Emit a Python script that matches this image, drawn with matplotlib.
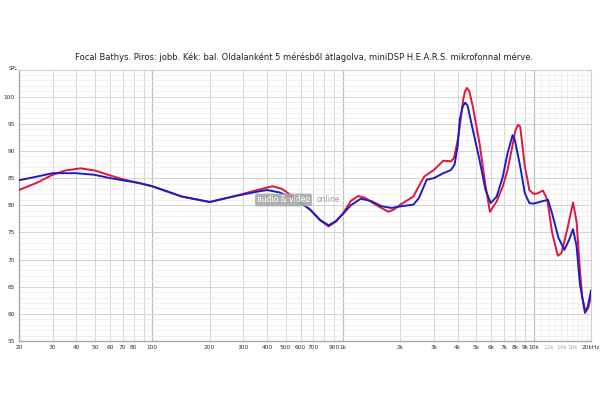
import matplotlib
matplotlib.use("Agg")
import matplotlib.pyplot as plt
from matplotlib.ticker import FixedLocator

title = "Focal Bathys. Piros: jobb. Kék: bal. Oldalanként 5 mérésből átlagolva, miniDSP H.E.A.R.S. mikrofonnal mérve."

# Right channel (red)
right_freq = [20, 25, 30, 35, 42, 50, 60, 70, 85, 100, 143, 200, 265, 355, 426, 480, 546, 673, 760, 842,
              920, 1000, 1100, 1200, 1300, 1500, 1730, 1850, 2000, 2340, 2500, 2670, 3000, 3360, 3690, 3820,
              4000, 4100, 4270, 4370, 4470, 4600, 4800, 5200, 5600, 5900, 6400, 6900, 7300, 7800, 8000, 8280, 8500,
              9000, 9500, 10000, 10500, 11200, 11800, 12500, 13400, 14000, 15000, 16100, 16800, 17500, 18000,
              18700, 19300, 20000]
right_db = [82.8, 84.2, 85.6, 86.4, 86.8, 86.4, 85.5, 84.8, 84.1, 83.5, 81.6, 80.6, 81.6, 82.8, 83.5, 83.0, 81.6, 79.2, 77.2, 76.1,
            77.0, 78.5, 80.8, 81.7, 81.4, 80.0, 78.8, 79.2, 80.1, 81.6, 83.5, 85.3, 86.5, 88.2, 88.1, 88.7,
            92.0, 94.5, 99.4, 101.0, 101.6, 101.0, 98.2, 91.5, 83.5, 78.8, 80.7, 83.5, 86.5, 91.5, 93.6, 94.8, 94.5,
            87.2, 82.8, 82.1, 82.2, 82.7, 81.0, 75.0, 70.7, 71.2, 75.5, 80.5, 77.0, 68.0, 63.0,
            60.4, 61.0, 63.2]

# Left channel (blue)
left_freq = [20, 25, 30, 40, 50, 60, 70, 85, 100, 143, 200, 265, 355, 400, 460, 546, 673, 760, 842, 920,
             1000, 1100, 1240, 1400, 1600, 1800, 2000, 2340, 2500, 2750, 3000, 3360, 3690, 3850, 4000, 4100,
             4250, 4370, 4500, 4800, 5200, 5600, 5960, 6400, 6900, 7300, 7760, 8000, 8500, 9000, 9500, 10000, 11000,
             11900, 12500, 13500, 14500, 15300, 16100, 16800, 17500, 18600, 19300, 20000]
left_db = [84.6, 85.3, 85.9, 85.9, 85.6, 85.0, 84.6, 84.1, 83.5, 81.6, 80.6, 81.6, 82.5, 82.8, 82.4, 81.4, 79.2, 77.3, 76.3, 77.1,
           78.4, 80.0, 81.2, 80.8, 79.8, 79.5, 79.8, 80.1, 81.3, 84.7, 85.0, 85.9, 86.5, 87.5, 91.0, 95.8,
           98.2, 98.9, 98.4, 93.9, 88.4, 82.8, 80.4, 81.6, 85.3, 89.6, 92.9, 91.8, 87.2, 82.2, 80.4, 80.3, 80.7,
           81.0, 78.5, 74.0, 71.8, 73.5, 75.6, 72.5, 65.5, 60.2, 61.5, 64.3]

xtick_vals = [20, 30, 40, 50, 60, 70, 80, 100, 200, 300, 400, 500, 600, 700, 900, 1000,
              2000, 3000, 4000, 5000, 6000, 7000, 8000, 9000, 10000, 12000, 14000, 16000, 20000]
xtick_labels = ["20", "30", "40", "50", "60", "70", "80", "100", "200", "300", "400", "500", "600", "700",
                "900", "1k", "2k", "3k", "4k", "5k", "6k", "7k", "8k", "9k", "10k", "12k", "14k", "16k", "20kHz"]
grey_labels = ["12k", "14k", "16k"]
ytick_vals = [55, 60, 65, 70, 75, 80, 85, 90, 95, 100]

fig = plt.figure(figsize=(6.0, 3.99), dpi=100)
ax = fig.add_axes([19/600, 1-341/399, (591-19)/600, (341-69.5)/399])
ax.set_xscale("log")
ax.set_xlim(20, 20000)
ax.set_ylim(55, 105)

# grid
vgrid = []
for dec in [10, 100, 1000]:
    for m in range(2, 10):
        v = m * dec
        if 20 <= v <= 20000:
            vgrid.append(v)
for v in vgrid:
    ax.axvline(v, color="#d6d6d6", lw=0.7, zorder=0)
for v in [100, 1000, 10000]:
    ax.axvline(v, color="#bdbdbd", lw=0.9, zorder=0)
for v in range(11000, 20000, 1000):
    ax.axvline(v, color="#ebebeb", lw=0.5, zorder=0)
for y in range(55, 106):
    if y % 5 == 0:
        ax.axhline(y, color="#d3d3d3", lw=0.7, zorder=0)
    else:
        ax.axhline(y, color="#ececec", lw=0.5, zorder=0)

ax.plot(right_freq, right_db, color="#e0163c", lw=1.4, zorder=3, solid_joinstyle="round")
ax.plot(left_freq, left_db, color="#1c1cc8", lw=1.4, zorder=4, solid_joinstyle="round")

ax.xaxis.set_minor_locator(FixedLocator([]))
ax.set_xticks(xtick_vals)
ax.set_xticklabels(xtick_labels, fontsize=4.2, color="#333333")
for lbl in ax.get_xticklabels():
    if lbl.get_text() in grey_labels:
        lbl.set_color("#aaaaaa")
ax.set_yticks(ytick_vals)
ax.set_yticklabels([str(v) for v in ytick_vals], fontsize=4.2, color="#333333")
ax.tick_params(length=0, pad=3)
for s in ["top", "right"]:
    ax.spines[s].set_color("#d0d0d0")
    ax.spines[s].set_linewidth(0.8)
for s in ["left", "bottom"]:
    ax.spines[s].set_color("#a8a8a8")
    ax.spines[s].set_linewidth(1.0)

fig.text(13/600, 1-68/399, "SPL", fontsize=3.6, color="#333333", ha="center", va="center")
fig.text(304.5/600, 1-57/399, title, fontsize=6.05, color="#222222", ha="center", va="center")

# watermark
fig.text(283.5/600, 1-200/399, "audio & video", fontsize=5.5, color="white", ha="center", va="center",
         bbox=dict(boxstyle="round,pad=0.25", fc="#a9a9a9", ec="none", alpha=0.9), zorder=10)
fig.text(328/600, 1-200/399, "online", fontsize=5.5, color="#a0a0a0", ha="center", va="center", zorder=10)

fig.savefig("out.png", dpi=100, facecolor="white")
